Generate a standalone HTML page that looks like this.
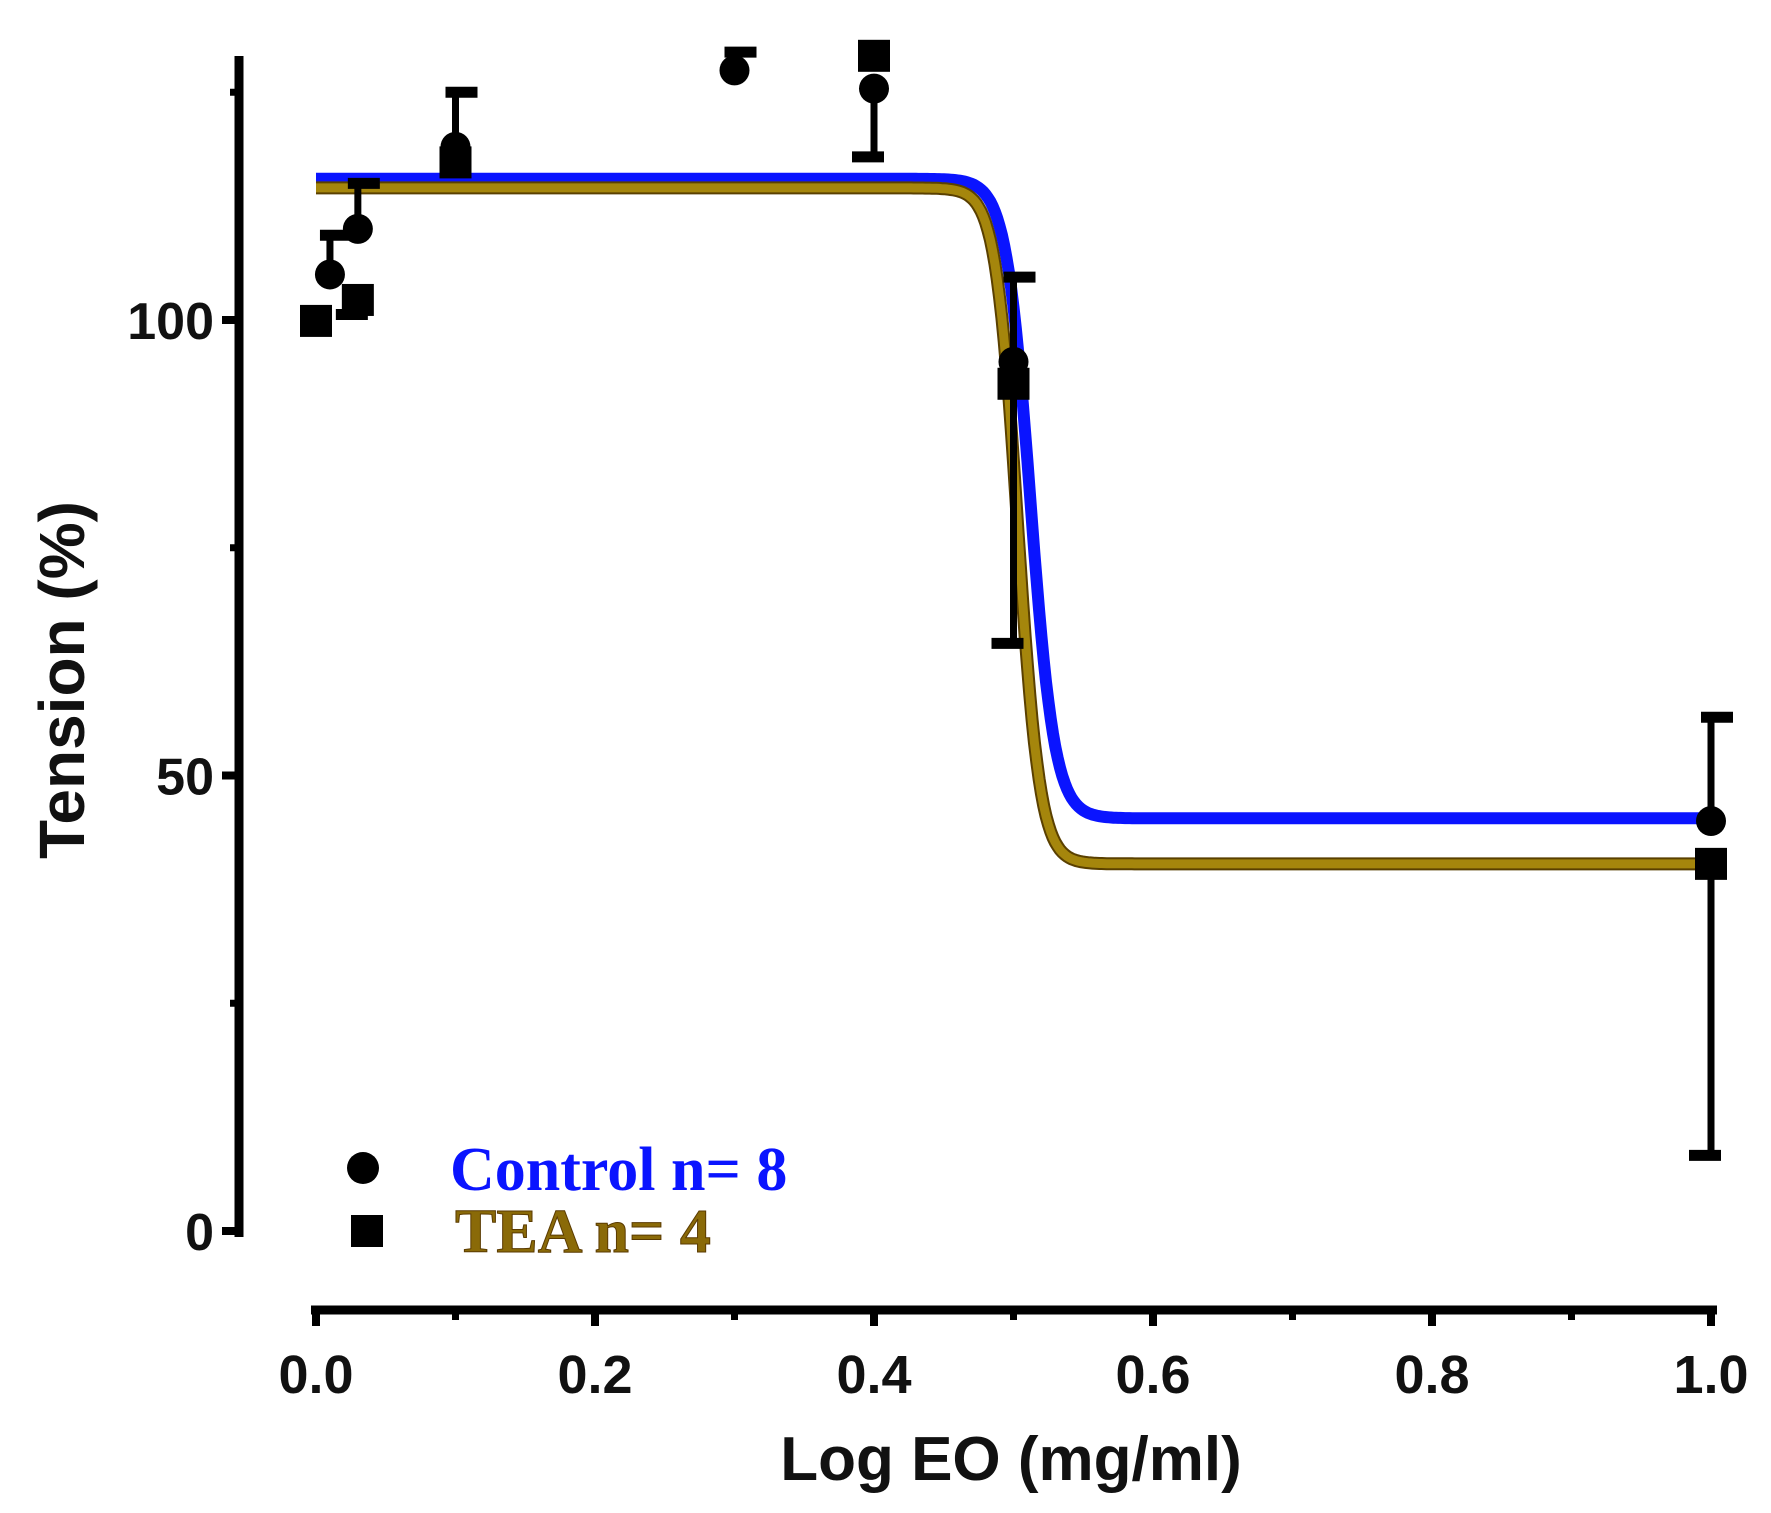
<!DOCTYPE html>
<html><head><meta charset="utf-8"><style>
html,body{margin:0;padding:0;background:#fff}
svg{display:block}
</style></head><body>
<svg id="chart" width="1771" height="1513" viewBox="0 0 1771 1513" xmlns="http://www.w3.org/2000/svg">
<g id="axes"></g>
<g id="curves"></g>
<g id="points"></g>
<text transform="translate(84,680) rotate(-90)" text-anchor="middle" font-family="Liberation Sans, sans-serif" font-weight="bold" font-size="64" fill="#111">Tension (%)</text>
<text x="1011" y="1480" text-anchor="middle" font-family="Liberation Sans, sans-serif" font-weight="bold" font-size="62" fill="#111">Log EO (mg/ml)</text>
<g>
<circle cx="363" cy="1168" r="16" fill="#000"/>
<text x="450" y="1190" font-family="Liberation Serif, serif" font-weight="bold" font-size="62" fill="#0a14ff">Control n= 8</text>
<rect x="351" y="1215" width="32" height="32" fill="#000"/>
<text x="455" y="1252" font-family="Liberation Serif, serif" font-weight="bold" font-size="62" fill="#8a6a08" stroke="#5a3a00" stroke-width="1">TEA n= 4</text>
</g>
</svg>
<script>
const xDoses = [0.01, 0.03, 0.1, 0.3, 0.4, 0.5, 1.0];
const controlMean = [105, 110, 119, 127.4, 125.4, 95.4, 45];
const controlErrUp = [4.3, 5, 6, 2, 0, 9.3, 11.4];
const controlErrDown = [0, 0, 0, 0, 7.5, 0, 0];
const teaDoses = [0.0, 0.03, 0.1, 0.4, 0.5, 1.0];
const teaMean = [99.9, 102.2, 117.3, 129, 93, 40.3];
const teaErrDown = [0, 1.6, 0, 0, 28.5, 32];
const controlFit = [115.5, 45.3, 0.512, 50];   // top, bottom, logEC50, hill
const teaFit = [114.5, 40.3, 0.503, 55];
const xTicks = [0, 0.2, 0.4, 0.6, 0.8, 1.0];
const xTickLabels = ["0.0","0.2","0.4","0.6","0.8","1.0"];
const yTicks = [0, 50, 100];
const yTickLabels = ["0","50","100"];

const NS="http://www.w3.org/2000/svg";
const X0=316,X1=1711,Y0=1231,Y100=320;
function sx(v){return X0+(X1-X0)*v;}
function sy(v){return Y0+(Y100-Y0)*v/100;}
function mk(tag,attrs,parent){const e=document.createElementNS(NS,tag);for(const k in attrs)e.setAttribute(k,attrs[k]);parent.appendChild(e);return e;}
const axes=document.getElementById('axes'),curves=document.getElementById('curves'),points=document.getElementById('points');

let l=mk('line',{x1:239,y1:56,x2:239,y2:1237,stroke:'#000','stroke-width':9},axes);


l=mk('line',{x1:311,y1:1310,x2:1717,y2:1310,stroke:'#000','stroke-width':9},axes);


[25,75,125].forEach(v=>{const t=mk('line',{x1:230,y1:sy(v),x2:239,y2:sy(v),stroke:'#000','stroke-width':7},axes);

});
yTicks.forEach((v,i)=>{const t=mk('line',{x1:222,y1:sy(v),x2:239,y2:sy(v),stroke:'#000','stroke-width':8},axes);


const tx=mk('text',{x:214,y:sy(v)+19,'text-anchor':'end','font-family':'Liberation Sans, sans-serif','font-weight':'bold','font-size':52,fill:'#111'},axes);tx.textContent=yTickLabels[i];

});
[0.1,0.3,0.5,0.7,0.9].forEach(v=>{const t=mk('line',{x1:sx(v),y1:1310,x2:sx(v),y2:1320,stroke:'#000','stroke-width':7},axes);

});
xTicks.forEach((v,i)=>{const t=mk('line',{x1:sx(v),y1:1310,x2:sx(v),y2:1326,stroke:'#000','stroke-width':8},axes);


const tx=mk('text',{x:sx(v),y:1393,'text-anchor':'middle','font-family':'Liberation Sans, sans-serif','font-weight':'bold','font-size':54,fill:'#111'},axes);tx.textContent=xTickLabels[i];

});

function fitPath(p){let d='';for(let i=0;i<=600;i++){const x=i/600;const y=p[1]+(p[0]-p[1])/(1+Math.pow(10,(x-p[2])*p[3]));d+=(i?'L':'M')+sx(x).toFixed(1)+','+sy(y).toFixed(1);}return d;}
let c=mk('path',{d:fitPath(controlFit),fill:'none',stroke:'#0a14ff','stroke-width':12},curves);


c=mk('path',{d:fitPath(teaFit),fill:'none',stroke:'#5a4000','stroke-width':13},curves);


c=mk('path',{d:fitPath(teaFit),fill:'none',stroke:'#a5860c','stroke-width':9},curves);



function errBar(x,m,e,dir,name){if(e<=0)return;const g=mk('g',{stroke:'#000','stroke-width':7},points);


const end=m+dir*e;
mk('line',{x1:sx(x),y1:sy(m),x2:sx(x),y2:sy(end)},g);
const cx1 = dir>0 ? sx(x)-10 : sx(x)-22, cx2 = dir>0 ? sx(x)+22 : sx(x)+10;
mk('line',{x1:cx1,y1:sy(end),x2:cx2,y2:sy(end),'stroke-width':11},g);}
xDoses.forEach((x,i)=>{errBar(x,controlMean[i],controlErrUp[i],1,'control-error-bar');errBar(x,controlMean[i],controlErrDown[i],-1,'control-error-bar');});
teaDoses.forEach((x,i)=>errBar(x,teaMean[i],teaErrDown[i],-1,'tea-error-bar'));
teaDoses.forEach((x,i)=>{const r=mk('rect',{x:sx(x)-16,y:sy(teaMean[i])-16,width:32,height:32,fill:'#000'},points);

});
xDoses.forEach((x,i)=>{const p=mk('circle',{cx:sx(x),cy:sy(controlMean[i]),r:15,fill:'#000'},points);

});
</script>
</body></html>
